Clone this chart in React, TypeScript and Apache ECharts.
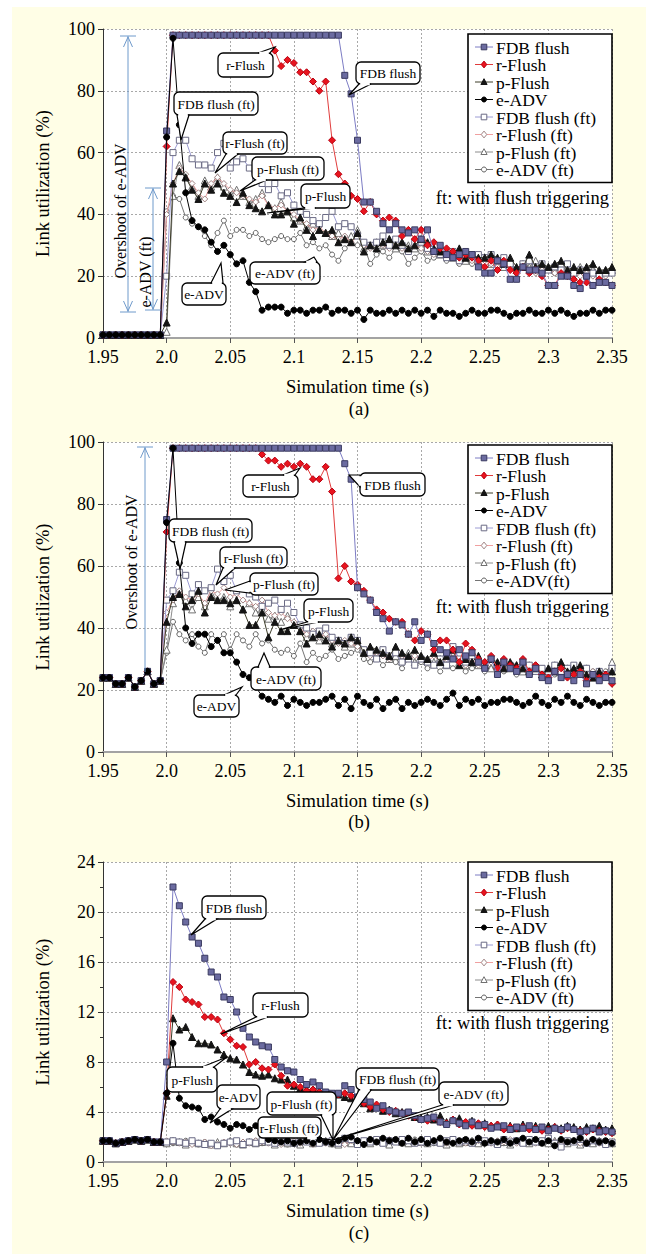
import React, { useEffect, useRef } from 'react';
import * as echarts from 'echarts';

const FONT = 'Liberation Serif';

// sample times: 1.95 .. 2.35 every 5 ms
const TIMES: number[] = Array.from({ length: 81 }, (_, i) => Math.round((1.95 + i * 0.005) * 1000) / 1000);

const NAMES_AC = ['FDB flush', 'r-Flush', 'p-Flush', 'e-ADV', 'FDB flush (ft)', 'r-Flush (ft)', 'p-Flush (ft)', 'e-ADV (ft)'];
const NAMES_B = ['FDB flush', 'r-Flush', 'p-Flush', 'e-ADV', 'FDB flush (ft)', 'r-Flush (ft)', 'p-Flush (ft)', 'e-ADV(ft)'];

const X_TICKS = ['1.95', '2.0', '2.05', '2.1', '2.15', '2.2', '2.25', '2.3', '2.35'];

// values before 2.0 s (shared by all series of a panel)
const PRE_A = [1, 1, 1, 1, 1, 1, 1, 1, 1, 1];
const PRE_B = [24, 24, 22, 22, 24, 21, 23, 26, 22, 23];
const PRE_C = [1.7, 1.7, 1.5, 1.6, 1.7, 1.8, 1.7, 1.8, 1.6, 1.6];

// ---------- panel (a), from 2.0 s ----------
const FDB_A = [67, 98, 98, 98, 98, 98, 98, 98, 98, 98,
  98, 98, 98, 98, 98, 98, 98, 98, 98, 98,
  98, 98, 98, 98, 98, 98, 98, 98, 85, 79,
  64, 44, 44, 41, 37, 35, 37, 35, 34, 35,
  32, 35, 28, 30, 27, 26, 27, 28, 27, 23,
  21, 21, 25, 24, 19, 19, 23, 22, 22, 21,
  17, 17, 20, 20, 17, 16, 20, 17, 18, 18,
  17];
const R_A = [62, 98, 98, 98, 98, 98, 98, 98, 98, 98,
  98, 98, 98, 98, 98, 98, 98, 93, 88, 90,
  89, 86, 86, 83, 80, 83, 64, 53, 50, 46,
  45, 41, 44, 40, 38, 39, 38, 33, 35, 32,
  35, 30, 31, 29, 29, 28, 26, 27, 26, 25,
  23, 25, 22, 25, 22, 21, 23, 21, 22, 20,
  17, 17, 21, 20, 19, 18, 18, 17, 19, 18,
  17];
const P_A = [5, 50, 54, 52, 48, 45, 50, 48, 50, 47,
  46, 44, 47, 43, 42, 41, 43, 40, 40, 41,
  37, 39, 35, 33, 35, 34, 35, 31, 32, 31,
  34, 28, 30, 29, 31, 32, 30, 31, 29, 30,
  32, 31, 29, 28, 28, 27, 29, 26, 27, 26,
  26, 27, 26, 24, 26, 23, 23, 27, 23, 24,
  23, 24, 25, 22, 23, 22, 23, 24, 22, 22,
  23];
const E_A = [65, 97, 69, 47, 38, 36, 35, 31, 28, 30,
  27, 24, 25, 18, 15, 9, 10, 10, 10, 8,
  9, 9, 8, 9, 9, 10, 8, 9, 9, 8,
  9, 6, 9, 8, 8, 9, 8, 9, 8, 9,
  8, 9, 7, 9, 8, 8, 7, 8, 9, 8,
  8, 9, 9, 8, 7, 8, 8, 9, 8, 8,
  9, 8, 9, 8, 7, 8, 8, 9, 8, 9,
  9];
const FDBF_A = [20, 60, 64, 64, 58, 56, 56, 55, 60, 63,
  55, 57, 58, 55, 51, 50, 48, 50, 46, 47,
  43, 41, 40, 38, 37, 39, 41, 36, 37, 36,
  33, 31, 30, 31, 33, 30, 32, 30, 28, 31,
  31, 29, 28, 27, 26, 28, 25, 26, 27, 27,
  26, 27, 25, 26, 24, 22, 24, 25, 23, 24,
  22, 23, 22, 24, 21, 22, 20, 21, 20, 21,
  21];
const RF_A = [40, 50, 55, 53, 50, 47, 45, 50, 52, 50,
  48, 47, 46, 45, 44, 46, 43, 42, 43, 41,
  40, 38, 37, 35, 36, 34, 33, 32, 33, 31,
  33, 30, 29, 31, 30, 29, 30, 29, 28, 30,
  29, 28, 27, 28, 27, 26, 25, 26, 25, 24,
  25, 24, 23, 24, 23, 22, 23, 22, 21, 22,
  22, 21, 22, 20, 21, 20, 21, 20, 21, 20,
  21];
const PF_A = [2, 46, 56, 52, 49, 46, 51, 49, 52, 49,
  47, 48, 46, 44, 45, 47, 43, 42, 44, 41,
  39, 38, 36, 37, 35, 34, 33, 34, 32, 33,
  35, 29, 30, 31, 30, 32, 29, 31, 30, 29,
  30, 28, 29, 27, 28, 26, 27, 25, 26, 25,
  26, 24, 25, 23, 25, 22, 24, 23, 25, 22,
  23, 22, 24, 21, 22, 23, 21, 22, 21, 22,
  22];
const EF_A = [41, 46, 45, 39, 37, 36, 33, 30, 34, 38,
  33, 35, 35, 33, 34, 32, 31, 32, 33, 32,
  32, 34, 30, 31, 29, 30, 27, 25, 29, 31,
  30, 30, 24, 27, 28, 26, 29, 28, 24, 26,
  28, 25, 26, 27, 25, 26, 24, 25, 24, 25,
  26, 24, 25, 23, 24, 22, 23, 24, 22, 23,
  22, 21, 23, 22, 21, 22, 21, 22, 20, 21,
  22];

// ---------- panel (b), from 2.0 s ----------
const FDB_B = [75, 98, 98, 98, 98, 98, 98, 98, 98, 98,
  98, 98, 98, 98, 98, 98, 98, 98, 98, 98,
  98, 98, 98, 98, 98, 98, 98, 98, 93, 88,
  53, 51, 49, 45, 43, 39, 42, 41, 38, 42,
  36, 38, 35, 33, 32, 30, 33, 31, 32, 29,
  27, 30, 25, 29, 27, 26, 29, 25, 27, 24,
  23, 26, 24, 25, 23, 25, 22, 25, 23, 24,
  23];
const R_B = [71, 98, 98, 98, 98, 98, 98, 98, 98, 98,
  98, 98, 98, 98, 98, 96, 94, 94, 92, 93,
  92, 93, 92, 88, 88, 92, 84, 56, 60, 55,
  54, 52, 49, 46, 45, 43, 42, 42, 38, 36,
  39, 38, 33, 36, 36, 33, 29, 35, 33, 30,
  29, 31, 27, 30, 28, 27, 30, 26, 28, 25,
  24, 26, 27, 24, 25, 26, 23, 25, 24, 25,
  22];
const P_B = [42, 50, 51, 47, 49, 52, 45, 50, 49, 49,
  48, 49, 46, 41, 41, 45, 37, 42, 39, 39,
  41, 39, 35, 37, 38, 36, 34, 36, 35, 37,
  36, 32, 34, 33, 32, 31, 34, 32, 31, 33,
  31, 30, 32, 29, 31, 33, 28, 30, 29, 31,
  28, 30, 29, 27, 29, 28, 27, 26, 27, 25,
  27, 26, 29, 26, 27, 28, 25, 24, 26, 25,
  26];
const E_B = [74, 98, 61, 40, 35, 38, 38, 34, 36, 32,
  32, 29, 25, 24, 21, 18, 17, 16, 18, 15,
  17, 16, 15, 16, 16, 17, 18, 15, 17, 14,
  18, 16, 15, 17, 14, 16, 17, 14, 16, 15,
  16, 17, 16, 15, 17, 19, 15, 17, 16, 17,
  15, 16, 16, 17, 17, 16, 15, 16, 18, 16,
  15, 17, 16, 18, 16, 15, 17, 16, 15, 16,
  16];
const FDBF_B = [49, 52, 58, 57, 51, 54, 52, 53, 59, 55,
  57, 52, 53, 51, 50, 47, 48, 49, 46, 48,
  45, 41, 40, 38, 39, 40, 37, 36, 35, 37,
  36, 33, 32, 30, 33, 31, 32, 29, 30, 28,
  30, 29, 28, 30, 28, 34, 30, 29, 31, 29,
  28, 30, 27, 29, 28, 27, 29, 28, 26, 27,
  26, 28, 26, 27, 28, 26, 27, 25, 26, 25,
  27];
const RF_B = [45, 49, 52, 50, 49, 51, 48, 52, 51, 53,
  50, 51, 49, 48, 47, 49, 45, 44, 45, 43,
  42, 40, 38, 39, 37, 38, 36, 35, 36, 35,
  34, 33, 31, 32, 31, 30, 32, 31, 30, 31,
  30, 29, 31, 29, 30, 32, 29, 28, 30, 28,
  27, 29, 28, 27, 28, 26, 28, 27, 26, 27,
  25, 27, 26, 25, 26, 25, 24, 26, 25, 24,
  27];
const PF_B = [33, 48, 51, 49, 46, 50, 47, 51, 49, 50,
  47, 49, 46, 48, 45, 46, 43, 44, 42, 44,
  41, 39, 37, 38, 36, 37, 35, 36, 34, 35,
  35, 32, 33, 31, 32, 30, 31, 30, 32, 29,
  31, 30, 29, 30, 28, 31, 29, 28, 29, 28,
  29, 27, 28, 29, 27, 28, 26, 28, 27, 26,
  27, 28, 26, 27, 25, 26, 27, 25, 26, 25,
  29];
const EF_B = [32, 42, 38, 36, 38, 34, 32, 38, 36, 38,
  33, 38, 36, 34, 38, 35, 36, 33, 32, 33,
  31, 35, 29, 32, 30, 31, 33, 30, 31, 32,
  33, 30, 29, 31, 28, 30, 29, 27, 30, 28,
  29, 27, 28, 26, 29, 27, 28, 26, 27, 28,
  26, 27, 28, 26, 27, 25, 27, 26, 28, 25,
  26, 25, 27, 26, 25, 27, 24, 26, 25, 26,
  28];

// ---------- panel (c), from 2.0 s ----------
const FDB_C = [8, 22, 20.5, 19.2, 18, 17.5, 16.3, 15.2, 14.8, 13.2,
  13, 12, 10.7, 10, 9.6, 9.3, 9.2, 8.2, 7.6, 7.3,
  7.2, 6.6, 6.2, 6.4, 6.1, 5.6, 5.5, 5.5, 6.1, 5.8,
  5.2, 5.0, 4.8, 4.3, 4.5, 4.1, 4.0, 3.9, 4.0, 3.7,
  3.4, 3.5, 3.6, 3.2, 3.0, 3.3, 3.1, 2.9, 3.2, 2.9,
  3.0, 2.7, 2.8, 2.9, 2.6, 2.8, 2.7, 2.9, 2.6, 2.8,
  2.5, 2.7, 2.6, 2.8, 2.6, 2.4, 2.5, 2.7, 2.4, 2.5,
  2.4];
const R_C = [5.5, 14.4, 14, 13, 12.8, 12.6, 11.6, 11.6, 11.4, 10.3,
  9.8, 9.3, 9.2, 7.8, 8.0, 7.5, 7.4, 7.8, 6.9, 6.1,
  6.2, 6.0, 5.7, 5.8, 5.6, 5.4, 5.3, 5.4, 5.5, 5.3,
  5.0, 4.7, 4.4, 4.6, 4.2, 4.0, 4.1, 3.9, 3.7, 3.6,
  3.4, 3.3, 3.5, 3.2, 3.1, 3.4, 3.0, 3.2, 2.9, 3.1,
  2.8, 2.9, 3.0, 2.6, 2.8, 2.7, 2.8, 2.6, 2.7, 2.5,
  2.6, 2.8, 2.5, 2.7, 2.6, 2.5, 2.4, 2.6, 2.5, 2.4,
  2.3];
const P_C = [5.3, 11.5, 10.6, 10.8, 10.0, 9.5, 9.5, 9.4, 9.0, 8.6,
  8.3, 8.2, 7.8, 7.2, 7.0, 6.9, 7.0, 6.7, 6.6, 6.6,
  6.1, 5.9, 5.8, 5.8, 5.7, 5.5, 5.3, 5.4, 5.2, 5.1,
  4.9, 4.7, 4.3, 4.4, 4.1, 4.2, 3.9, 4.0, 3.8, 3.6,
  3.5, 3.6, 3.4, 3.7, 3.2, 3.4, 3.5, 3.1, 3.3, 3.0,
  3.1, 2.9, 3.0, 2.8, 2.9, 2.7, 3.0, 2.8, 2.9, 2.7,
  2.9, 2.8, 2.7, 2.9, 2.8, 2.6, 2.8, 2.7, 2.9, 2.6,
  2.7];
const E_C = [5.5, 9.5, 5.1, 4.5, 4.4, 4.3, 3.4, 3.6, 3.2, 3.0,
  2.7, 3.0, 2.9, 2.6, 2.9, 2.2, 1.8, 1.7, 1.6, 1.7,
  1.5, 1.6, 1.7, 1.5, 1.8, 1.6, 1.5, 1.7, 1.9, 2.0,
  1.7, 1.4, 1.8, 1.6, 1.9, 1.7, 1.8, 1.5, 1.9, 1.6,
  1.8, 1.5, 1.7, 1.9, 1.6, 1.5, 1.7, 1.8, 1.6, 1.9,
  1.5, 1.7, 1.6, 1.8, 1.5, 1.7, 1.9, 1.6, 1.8, 1.5,
  1.7, 1.3, 1.8, 1.6, 1.7, 1.9, 1.5, 1.8, 1.6, 1.7,
  1.5];
const FDBF_C = [1.6, 1.7, 1.6, 1.5, 1.7, 1.5, 1.4, 1.5, 1.3, 1.5,
  1.6, 1.7, 1.4, 1.6, 1.5, 1.7, 1.6, 1.5, 1.7, 1.6,
  1.5, 1.7, 1.6, 1.8, 1.5, 1.6, 1.7, 1.5, 1.9, 1.8,
  1.4, 1.7, 1.6, 1.8, 1.5, 1.7, 1.6, 1.8, 1.7, 1.5,
  1.6, 1.8, 1.6, 1.5, 1.7, 1.8, 1.6, 1.7, 1.5, 1.8,
  1.7, 1.6, 1.4, 1.8, 1.6, 1.7, 1.5, 1.8, 1.6, 1.7,
  1.9, 1.5, 1.2, 1.7, 1.6, 1.8, 1.5, 1.7, 1.6, 1.4,
  1.6];
const RF_C = [1.7, 1.6, 1.5, 1.6, 1.4, 1.5, 1.6, 1.3, 1.4, 1.6,
  1.5, 1.4, 1.6, 1.5, 1.7, 1.6, 1.5, 1.6, 1.4, 1.6,
  1.7, 1.5, 1.6, 1.4, 1.6, 1.5, 1.7, 1.6, 1.4, 1.7,
  1.6, 1.5, 1.7, 1.6, 1.5, 1.8, 1.6, 1.5, 1.7, 1.6,
  1.5, 1.7, 1.6, 1.8, 1.5, 1.6, 1.7, 1.5, 1.6, 1.7,
  1.6, 1.5, 1.7, 1.6, 1.8, 1.5, 1.6, 1.7, 1.5, 1.6,
  1.7, 1.6, 1.4, 1.6, 1.7, 1.5, 1.6, 1.8, 1.5, 1.6,
  1.5];
const PF_C = [1.5, 1.7, 1.6, 1.4, 1.6, 1.5, 1.5, 1.4, 1.6, 1.5,
  1.7, 1.5, 1.4, 1.6, 1.5, 1.6, 1.7, 1.4, 1.6, 1.5,
  1.6, 1.4, 1.7, 1.5, 1.6, 1.7, 1.5, 1.4, 1.6, 1.5,
  1.7, 1.6, 1.5, 1.7, 1.6, 1.4, 1.7, 1.6, 1.5, 1.7,
  1.6, 1.5, 1.7, 1.6, 1.4, 1.7, 1.5, 1.6, 1.7, 1.5,
  1.6, 1.7, 1.5, 1.6, 1.4, 1.7, 1.6, 1.5, 1.7, 1.6,
  1.5, 1.7, 1.6, 1.5, 1.7, 1.4, 1.6, 1.5, 1.7, 1.6,
  1.5];
const EF_C = [1.6, 1.5, 1.6, 1.7, 1.5, 1.4, 1.6, 1.5, 1.3, 1.5,
  1.6, 1.4, 1.5, 1.6, 1.7, 1.5, 1.6, 1.5, 1.6, 1.4,
  1.6, 1.5, 1.7, 1.6, 1.5, 1.6, 1.4, 1.5, 1.7, 1.6,
  1.5, 1.7, 1.6, 1.8, 1.6, 1.5, 1.7, 1.6, 1.5, 1.8,
  1.7, 1.6, 1.5, 1.7, 1.6, 1.8, 1.5, 1.6, 1.7, 1.5,
  1.6, 1.7, 1.6, 1.5, 1.7, 1.6, 1.8, 1.5, 1.6, 1.7,
  1.5, 1.6, 1.7, 1.5, 1.6, 1.8, 1.6, 1.5, 1.7, 1.6,
  1.5];

// ---------- styles ----------
const STYLES = [
  { symbol: 'rect', size: 6, fill: '#6b6ba0', border: '#3a3a60', line: '#7c7cc4' },
  { symbol: 'diamond', size: 7, fill: '#e8141e', border: '#b80010', line: '#e03c3c' },
  { symbol: 'triangle', size: 7, fill: '#141414', border: '#141414', line: '#3c3c28' },
  { symbol: 'circle', size: 6, fill: '#000000', border: '#000000', line: '#000000' },
  { symbol: 'rect', size: 6, fill: '#ffffff', border: '#6a6a84', line: '#9c9cd4' },
  { symbol: 'diamond', size: 6, fill: '#ffffff', border: '#a08484', line: '#f0a0a0' },
  { symbol: 'triangle', size: 7, fill: '#ffffff', border: '#707070', line: '#8c8c8c' },
  { symbol: 'circle', size: 5, fill: '#ffffff', border: '#606060', line: '#747474' },
];
const DRAW_ORDER = [7, 6, 5, 4, 2, 1, 0, 3];

const LEGEND_ROW = 17.5;
const LEGEND_FONT = 17.5;

const PANELS = [
  { names: NAMES_AC, pre: PRE_A, vals: [FDB_A, R_A, P_A, E_A, FDBF_A, RF_A, PF_A, EF_A], max: 100, step: 20, top: 29, height: 309, legendTop: 34, ftY: 198, tag: '(a)', tagY: 409 },
  { names: NAMES_B, pre: PRE_B, vals: [FDB_B, R_B, P_B, E_B, FDBF_B, RF_B, PF_B, EF_B], max: 100, step: 20, top: 442, height: 310, legendTop: 445, ftY: 607, tag: '(b)', tagY: 822 },
  { names: NAMES_AC, pre: PRE_C, vals: [FDB_C, R_C, P_C, E_C, FDBF_C, RF_C, PF_C, EF_C], max: 24, step: 4, top: 862, height: 300, legendTop: 862, ftY: 1023, tag: '(c)', tagY: 1233 },
];

type Callout = { text: string; box: number[]; tip: number[] };
const CALLOUTS: Callout[] = [
  // (a)
  { text: 'r-Flush', box: [218, 53, 273, 77], tip: [275, 47] },
  { text: 'FDB flush', box: [356, 62, 420, 84], tip: [349, 95] },
  { text: 'FDB flush (ft)', box: [174, 92, 258, 115], tip: [181, 140] },
  { text: 'r-Flush (ft)', box: [223, 132, 287, 154], tip: [215, 173] },
  { text: 'p-Flush (ft)', box: [252, 157, 324, 180], tip: [240, 191] },
  { text: 'p-Flush', box: [301, 184, 350, 208], tip: [267, 213] },
  { text: 'e-ADV (ft)', box: [250, 262, 320, 284], tip: [314, 257] },
  { text: 'e-ADV', box: [182, 283, 226, 305], tip: [221, 263] },
  // (b)
  { text: 'r-Flush', box: [243, 475, 298, 497], tip: [300, 468] },
  { text: 'FDB flush', box: [360, 473, 425, 496], tip: [349, 475] },
  { text: 'FDB flush (ft)', box: [169, 519, 252, 542], tip: [180, 569] },
  { text: 'r-Flush (ft)', box: [220, 547, 287, 568], tip: [216, 585] },
  { text: 'p-Flush (ft)', box: [250, 573, 318, 595], tip: [225, 590] },
  { text: 'p-Flush', box: [304, 599, 353, 622], tip: [279, 630] },
  { text: 'e-ADV (ft)', box: [251, 667, 321, 690], tip: [264, 653] },
  { text: 'e-ADV', box: [194, 695, 239, 717], tip: [242, 687] },
  // (c)
  { text: 'FDB flush', box: [202, 896, 266, 919], tip: [191, 935] },
  { text: 'r-Flush', box: [253, 993, 308, 1017], tip: [221, 1034] },
  { text: 'p-Flush', box: [167, 1067, 217, 1092], tip: [227, 1057] },
  { text: 'e-ADV', box: [217, 1085, 260, 1109], tip: [210, 1123] },
  { text: 'p-Flush (ft)', box: [267, 1092, 336, 1115], tip: [333, 1140] },
  { text: 'r-Flush (ft)', box: [258, 1117, 321, 1138], tip: [333, 1140] },
  { text: 'FDB flush (ft)', box: [356, 1068, 439, 1090], tip: [333, 1140] },
  { text: 'e-ADV (ft)', box: [439, 1082, 508, 1105], tip: [333, 1140] },
];

const ARROW_COLOR = '#6f9acb';

function clamp(v: number, a: number, b: number) {
  return Math.max(a, Math.min(b, v));
}

function calloutEls(c: Callout) {
  const [x0, y0, x1, y1] = c.box;
  const [tx, ty] = c.tip;
  const hw = 6;
  let b1: number[], b2: number[], c1: number[], c2: number[];
  if (ty > y1) {
    const cx = clamp(tx, x0 + hw + 3, x1 - hw - 3);
    b1 = [cx - hw, y1]; b2 = [cx + hw, y1]; c1 = [cx - hw + 1.2, y1]; c2 = [cx + hw - 1.2, y1];
  } else if (ty < y0) {
    const cx = clamp(tx, x0 + hw + 3, x1 - hw - 3);
    b1 = [cx - hw, y0]; b2 = [cx + hw, y0]; c1 = [cx - hw + 1.2, y0]; c2 = [cx + hw - 1.2, y0];
  } else if (tx < x0) {
    const cy = clamp(ty, y0 + hw + 2, y1 - hw - 2);
    b1 = [x0, cy - hw]; b2 = [x0, cy + hw]; c1 = [x0, cy - hw + 1.2]; c2 = [x0, cy + hw - 1.2];
  } else {
    const cy = clamp(ty, y0 + hw + 2, y1 - hw - 2);
    b1 = [x1, cy - hw]; b2 = [x1, cy + hw]; c1 = [x1, cy - hw + 1.2]; c2 = [x1, cy + hw - 1.2];
  }
  return [
    { type: 'rect', z: 100, shape: { x: x0, y: y0, width: x1 - x0, height: y1 - y0, r: 5 }, style: { fill: '#fff', stroke: '#000', lineWidth: 1.3 } },
    { type: 'polygon', z: 101, shape: { points: [b1, [tx, ty], b2] }, style: { fill: '#fff', stroke: '#000', lineWidth: 1.2 } },
    { type: 'line', z: 102, shape: { x1: c1[0], y1: c1[1], x2: c2[0], y2: c2[1] }, style: { stroke: '#fff', lineWidth: 2.6 } },
    { type: 'text', z: 103, x: (x0 + x1) / 2, y: (y0 + y1) / 2 + 0.5, style: { text: c.text, fill: '#000', fontSize: 13.5, fontFamily: FONT, align: 'center', verticalAlign: 'middle', textAlign: 'center', textVerticalAlign: 'middle' } },
  ];
}

function vArrow(x: number, yTop: number, yBot: number, topBar: boolean, botBar: boolean, botHead: boolean) {
  const st = { stroke: ARROW_COLOR, lineWidth: 1, fill: 'none' };
  const els: any[] = [
    { type: 'line', z: 90, shape: { x1: x, y1: yTop, x2: x, y2: yBot }, style: st },
    { type: 'polyline', z: 90, shape: { points: [[x - 4.5, yTop + 11], [x, yTop + 1], [x + 4.5, yTop + 11]] }, style: st },
  ];
  if (topBar) els.push({ type: 'line', z: 90, shape: { x1: x - 8, y1: yTop, x2: x + 8, y2: yTop }, style: st });
  if (botHead) els.push({ type: 'polyline', z: 90, shape: { points: [[x - 4.5, yBot - 11], [x, yBot - 1], [x + 4.5, yBot - 11]] }, style: st });
  if (botBar) els.push({ type: 'line', z: 90, shape: { x1: x - 8, y1: yBot, x2: x + 8, y2: yBot }, style: st });
  return els;
}

function rotText(text: string, x: number, y: number) {
  return {
    type: 'text', z: 91, x, y, rotation: Math.PI / 2,
    style: { text, fill: '#000', fontSize: 16, fontFamily: FONT, align: 'center', verticalAlign: 'middle', textAlign: 'center', textVerticalAlign: 'middle' },
  };
}

// legend drawn as graphic so that its rows are as tight as in the reference
function legendMarker(k: number, x: number, y: number) {
  const st = STYLES[k];
  const style = { fill: st.fill, stroke: st.border, lineWidth: 1 };
  const r = 2.8;
  if (st.symbol === 'rect') return { type: 'rect', z: 112, shape: { x: x - r, y: y - r, width: 2 * r, height: 2 * r }, style };
  if (st.symbol === 'circle') return { type: 'circle', z: 112, shape: { cx: x, cy: y, r: r - 0.3 }, style };
  if (st.symbol === 'diamond') return { type: 'polygon', z: 112, shape: { points: [[x, y - r - 0.6], [x + r, y], [x, y + r + 0.6], [x - r, y]] }, style };
  return { type: 'polygon', z: 112, shape: { points: [[x, y - r - 0.5], [x + r + 0.3, y + r - 0.3], [x - r - 0.3, y + r - 0.3]] }, style };
}

function legendEls(names: string[], top: number) {
  const els: any[] = [
    { type: 'rect', z: 110, shape: { x: 468, y: top, width: 144, height: 26 + 7 * LEGEND_ROW }, style: { fill: '#fff', stroke: '#000', lineWidth: 1.6 } },
  ];
  names.forEach((n, k) => {
    const cy = top + 13 + k * LEGEND_ROW;
    els.push({ type: 'line', z: 111, shape: { x1: 475, y1: cy, x2: 493, y2: cy }, style: { stroke: STYLES[k].line, lineWidth: 1 } });
    els.push(legendMarker(k, 484, cy));
    els.push({
      type: 'text', z: 112, x: 496, y: cy + 0.5,
      style: { text: n, fill: '#000', fontSize: LEGEND_FONT, fontFamily: FONT, align: 'left', verticalAlign: 'middle', textAlign: 'left', textVerticalAlign: 'middle' },
    });
  });
  return els;
}

function xFormatter(v: number) {
  const idx = Math.round((v - 1.95) / 0.05);
  return X_TICKS[idx] ?? String(v);
}

function buildOption() {
  const grid: any[] = [];
  const xAxis: any[] = [];
  const yAxis: any[] = [];
  const series: any[] = [];
  const graphic: any[] = [];

  PANELS.forEach((p, gi) => {
    grid.push({ left: 103, top: p.top, width: 509, height: p.height, show: true, backgroundColor: '#ffffff', borderWidth: 0 });
    xAxis.push({
      type: 'value', gridIndex: gi, min: 1.95, max: 2.35, interval: 0.05,
      name: 'Simulation time (s)', nameLocation: 'middle', nameGap: 39,
      nameTextStyle: { fontFamily: FONT, fontSize: 18.5, color: '#000' },
      axisLine: { show: true, onZero: false, lineStyle: { color: '#a3a3a3', width: 2 } },
      axisTick: { show: true, length: 5, lineStyle: { color: '#555', width: 1 } },
      axisLabel: { fontFamily: FONT, fontSize: 18, color: '#000', margin: 10, formatter: xFormatter, showMinLabel: true, showMaxLabel: true },
      splitLine: { show: true, lineStyle: { color: '#a8a8a8', type: [2, 2], width: 1 } },
    });
    yAxis.push({
      type: 'value', gridIndex: gi, min: 0, max: p.max, interval: p.step,
      name: 'Link utilization (%)', nameLocation: 'middle', nameGap: 51, nameRotate: 90,
      nameTextStyle: { fontFamily: FONT, fontSize: 18.5, color: '#000' },
      axisLine: { show: true, lineStyle: { color: '#333', width: 1 } },
      axisTick: { show: true, length: 5, lineStyle: { color: '#333', width: 1 } },
      minorTick: { show: gi === 2, splitNumber: 2, length: 3, lineStyle: { color: '#333' } },
      axisLabel: { fontFamily: FONT, fontSize: 18, color: '#000', margin: 8 },
      splitLine: { show: true, lineStyle: { color: '#a8a8a8', type: [2, 2], width: 1 } },
    });
    DRAW_ORDER.forEach((k, order) => {
      const st = STYLES[k];
      const full = p.pre.concat(p.vals[k]);
      series.push({
        type: 'line', name: p.names[k], xAxisIndex: gi, yAxisIndex: gi,
        data: TIMES.map((t, i) => [t, full[i]]),
        symbol: st.symbol, symbolSize: st.size, showSymbol: true,
        itemStyle: { color: st.fill, borderColor: st.border, borderWidth: 1 },
        lineStyle: { color: st.line, width: 1 },
        z: 2 + order, silent: true,
      });
    });
    graphic.push(...legendEls(p.names, p.legendTop));
    graphic.push({
      type: 'text', z: 95, x: 609, y: p.ftY,
      style: { text: 'ft: with flush triggering', fill: '#000', fontSize: 18.5, fontFamily: FONT, align: 'right', verticalAlign: 'middle', textAlign: 'right', textVerticalAlign: 'middle' },
    });
    graphic.push({
      type: 'text', z: 95, x: 359, y: p.tagY,
      style: { text: p.tag, fill: '#000', fontSize: 18.5, fontFamily: FONT, align: 'center', verticalAlign: 'middle', textAlign: 'center', textVerticalAlign: 'middle' },
    });
  });

  // measurement arrows
  graphic.push(...vArrow(128, 36, 312, true, true, true));
  graphic.push(rotText('Overshoot of e-ADV', 120, 211));
  graphic.push(...vArrow(153, 188, 310, true, true, true));
  graphic.push(rotText('e-ADV (ft)', 145, 272));
  graphic.push(...vArrow(145, 447, 672, true, false, false));
  graphic.push(rotText('Overshoot of e-ADV', 131, 562));

  CALLOUTS.forEach((c) => graphic.push(...calloutEls(c)));

  return { animation: false, backgroundColor: 'transparent', grid, xAxis, yAxis, series, graphic };
}

export default function App() {
  const ref = useRef<HTMLDivElement>(null);
  useEffect(() => {
    document.body.style.margin = '0';
    const chart = echarts.init(ref.current!, null, { renderer: 'svg' });
    chart.setOption(buildOption() as any);
    return () => chart.dispose();
  }, []);
  return (
    <div style={{ position: 'relative', width: 646, height: 1254, background: '#ffffff', overflow: 'hidden' }}>
      <div style={{ position: 'absolute', left: 12, top: 7, right: 0, bottom: 0, background: '#fffee6' }} />
      <div ref={ref} style={{ position: 'absolute', left: 0, top: 0, width: 646, height: 1254 }} />
    </div>
  );
}
